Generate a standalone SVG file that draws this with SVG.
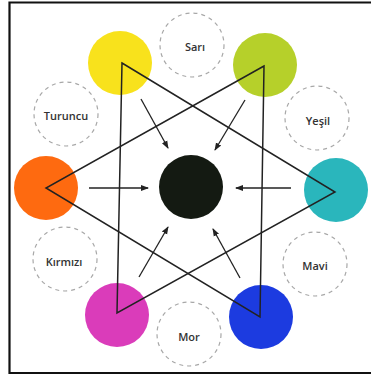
<svg xmlns="http://www.w3.org/2000/svg" width="371" height="380" viewBox="0 0 371 380">
<style>
.dash{fill:#fff;stroke:#a8a8a8;stroke-width:1.2;stroke-dasharray:4 4}
.lbl{font-family:"Open Sans","Noto Sans",sans-serif;font-size:11px;font-weight:600;fill:#333;text-anchor:middle;dominant-baseline:central}
.tri{fill:none;stroke:#222;stroke-width:1.5;stroke-linejoin:miter}
.arr{stroke:#222;stroke-width:1.3;marker-end:url(#ah)}
</style>
<defs>
<marker id="ah" markerWidth="8" markerHeight="8" refX="7" refY="4" orient="auto" markerUnits="userSpaceOnUse">
<path d="M0,1 L8,4 L0,7 Z" fill="#222"/>
</marker>
</defs>
<rect x="0" y="0" width="371" height="380" fill="#fff"/>
<path d="M371,373 H9.5 V2.5 H371" fill="none" stroke="#111" stroke-width="2.2"/>
<g id="sari"><circle class="dash" cx="192" cy="45" r="32"/><text class="lbl" x="195" y="46">Sarı</text></g>
<g id="turuncu"><circle class="dash" cx="66" cy="114" r="32"/><text class="lbl" x="66" y="115">Turuncu</text></g>
<g id="yesil"><circle class="dash" cx="317" cy="118" r="32"/><text class="lbl" x="318" y="120">Yeşil</text></g>
<g id="kirmizi"><circle class="dash" cx="65" cy="259" r="32"/><text class="lbl" x="64" y="261">Kırmızı</text></g>
<g id="mavi"><circle class="dash" cx="315" cy="264" r="32"/><text class="lbl" x="315" y="265">Mavi</text></g>
<g id="mor"><circle class="dash" cx="189" cy="334" r="32"/><text class="lbl" x="189" y="336">Mor</text></g>
<g id="yellow"><circle cx="120" cy="63" r="32" fill="#f8e21c"/></g>
<g id="yellowgreen"><circle cx="265" cy="65" r="32" fill="#b6d02a"/></g>
<g id="orange"><circle cx="46" cy="188" r="32" fill="#fe6a10"/></g>
<g id="teal"><circle cx="336" cy="190" r="32" fill="#2ab6bc"/></g>
<g id="magenta"><circle cx="117" cy="315" r="32" fill="#da3cba"/></g>
<g id="blue"><circle cx="261" cy="317" r="32" fill="#1c3be0"/></g>
<g id="black"><circle cx="191" cy="187" r="32" fill="#141a12"/></g>
<g id="connectors">
<polygon class="tri" points="122,63 335,192 117,313"/>
<polygon class="tri" points="264,66 46,188 260,317"/>
<line class="arr" x1="141" y1="99" x2="168" y2="148"/>
<line class="arr" x1="245" y1="100" x2="215" y2="150"/>
<line class="arr" x1="89" y1="188" x2="148" y2="188"/>
<line class="arr" x1="291" y1="188" x2="236" y2="188"/>
<line class="arr" x1="139" y1="277" x2="168" y2="227"/>
<line class="arr" x1="240" y1="278" x2="213" y2="229"/>
</g>
</svg>
